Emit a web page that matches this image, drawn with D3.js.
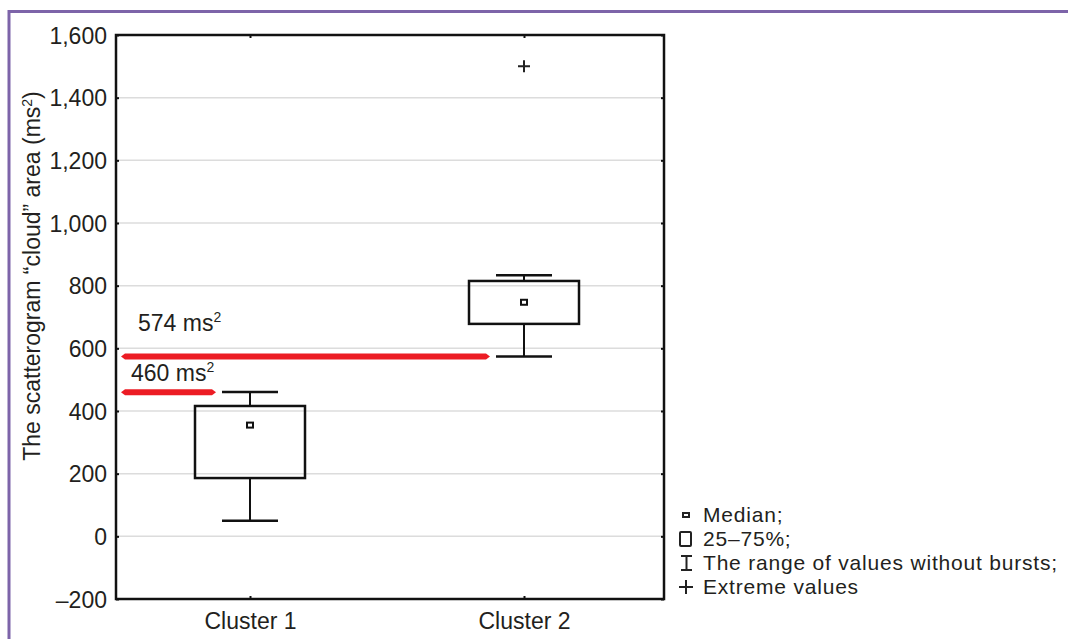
<!DOCTYPE html>
<html>
<head>
<meta charset="utf-8">
<script src="https://cdnjs.cloudflare.com/ajax/libs/d3/7.8.5/d3.min.js"></script>
<style>
    body { margin: 0; background: #fff; }
    svg text { font-family: "Liberation Sans", Arial, sans-serif; fill: #231f20; }
</style>
</head>
<body>
<script>
// box plot data
var clusters = ["Cluster 1", "Cluster 2"];
var whiskerLow = [50, 574];
var quart1 = [186, 678];
var medians = [355, 747];
var quart3 = [416, 815];
var whiskerHigh = [461, 833];
var extremeValues = [{cluster: "Cluster 2", value: 1500}];
var yTicks = [-200, 0, 200, 400, 600, 800, 1000, 1200, 1400, 1600];

// red reference lines and their labels
var refValues = [574, 460];
var refTargets = ["Cluster 2", "Cluster 1"];
var refLabels = ["574 ms", "460 ms"];

var legendLabels = ["Median;", "25\u201375%;", "The range of values without bursts;",
    "Extreme values"];

var W = 1068, H = 639;
var margin = {top: 35, right: 404, bottom: 40, left: 116};
var width = W - margin.left - margin.right,   // 548
    height = H - margin.top - margin.bottom;  // 564
var fs = "23px";

var svg = d3.select("body").append("svg")
    .attr("width", W)
    .attr("height", H);

// purple frame of the figure
svg.append("path")
    .attr("d", "M9,639 V11.5 H1068")
    .attr("fill", "none")
    .attr("stroke", "#7d64a9")
    .attr("stroke-width", 3);

var g = svg.append("g")
    .attr("transform", "translate(" + margin.left + "," + margin.top + ")");

var xScale = d3.scalePoint().domain(clusters).range([-3, width - 3]).padding(0.5);
var yScale = d3.scaleLinear().domain([-200, 1600]).range([height, 0]);

var fmt = d3.format(",");
function tickFmt(d) { return d < 0 ? "\u2013" + fmt(-d) : fmt(d); }

// grid lines
g.selectAll(".grid")
    .data(yTicks.filter(function(d) { return d > -200 && d < 1600; }))
    .enter().append("line")
    .attr("x1", 0).attr("x2", width)
    .attr("y1", function(d) { return yScale(d); })
    .attr("y2", function(d) { return yScale(d); })
    .attr("stroke", "#dcdcdc")
    .attr("stroke-width", 1.5);

// axes (inner ticks, frame drawn as a rect)
var yAxis = d3.axisLeft(yScale).tickValues(yTicks).tickSize(-3).tickPadding(9)
    .tickFormat(tickFmt);
var yAxisR = d3.axisRight(yScale).tickValues(yTicks).tickSize(-3).tickFormat("");
var xAxis = d3.axisBottom(xScale).tickSize(-3).tickPadding(14);
var xAxisT = d3.axisTop(xScale).tickSize(-3).tickFormat("");

var ya = g.append("g").call(yAxis);
g.append("g").attr("transform", "translate(" + width + ",0)").call(yAxisR);
var xa = g.append("g").attr("transform", "translate(0," + height + ")").call(xAxis);
g.append("g").call(xAxisT);

g.selectAll(".domain").remove();
g.selectAll(".tick line").attr("stroke", "#111").attr("stroke-width", 2);
ya.selectAll("text").attr("font-size", fs).attr("dy", "0.36em");
xa.selectAll("text").attr("font-size", fs).attr("dy", "0.71em");
g.selectAll(".tick text").style("font-family", "Liberation Sans, Arial, sans-serif")
    .attr("fill", "#231f20");

g.append("rect")
    .attr("width", width).attr("height", height)
    .attr("fill", "none")
    .attr("stroke", "#111")
    .attr("stroke-width", 2.5);

// y axis title
svg.append("text")
    .attr("transform", "translate(40,276) rotate(-90)")
    .attr("text-anchor", "middle")
    .attr("font-size", fs)
    .text("The scatterogram \u201ccloud\u201d area (ms")
    .call(function(t) {
        t.append("tspan").attr("font-size", "14px").attr("dy", "-8").text("2");
        t.append("tspan").attr("dy", "8").text(")");
    });

// boxes
var boxHalf = 55, capHalf = 28;
var boxes = clusters.map(function(c, i) {
    return {c: c, lo: whiskerLow[i], q1: quart1[i], med: medians[i],
        q3: quart3[i], hi: whiskerHigh[i]};
});

var bx = g.selectAll(".box").data(boxes).enter().append("g")
    .attr("transform", function(d) { return "translate(" + xScale(d.c) + ",0)"; });

// whiskers
bx.append("line")
    .attr("y1", function(d) { return yScale(d.lo); })
    .attr("y2", function(d) { return yScale(d.q1); })
    .attr("stroke", "#111").attr("stroke-width", 2);
bx.append("line")
    .attr("y1", function(d) { return yScale(d.q3); })
    .attr("y2", function(d) { return yScale(d.hi); })
    .attr("stroke", "#111").attr("stroke-width", 2);
bx.selectAll(".cap")
    .data(function(d) { return [d.lo, d.hi]; })
    .enter().append("line")
    .attr("x1", -capHalf).attr("x2", capHalf)
    .attr("y1", function(v) { return yScale(v); })
    .attr("y2", function(v) { return yScale(v); })
    .attr("stroke", "#111").attr("stroke-width", 2.5);

bx.append("rect")
    .attr("x", -boxHalf).attr("width", boxHalf * 2)
    .attr("y", function(d) { return yScale(d.q3); })
    .attr("height", function(d) { return yScale(d.q1) - yScale(d.q3); })
    .attr("fill", "none").attr("stroke", "#111").attr("stroke-width", 2.5);

// median markers
bx.append("rect")
    .attr("x", -3).attr("width", 6)
    .attr("y", function(d) { return yScale(d.med) - 2.5; })
    .attr("height", 5)
    .attr("fill", "none").attr("stroke", "#111").attr("stroke-width", 2);

// extreme values
g.selectAll(".extreme").data(extremeValues).enter().append("path")
    .attr("transform", function(d) {
        return "translate(" + xScale(d.cluster) + "," + yScale(d.value) + ")";
    })
    .attr("d", "M-6,0H6M0,-6V6")
    .attr("stroke", "#222").attr("stroke-width", 2);

// red reference lines with pointed ends
var refs = refValues.map(function(v, i) {
    return {v: v, x0: 5, x1: xScale(refTargets[i]) - capHalf - 6, label: refLabels[i]};
});
var labelOffset = [{dx: 22, dy: -25}, {dx: 15, dy: -11}];

g.selectAll(".ref").data(refs).enter().append("path")
    .attr("d", function(d) {
        var y = yScale(d.v);
        return "M" + d.x0 + "," + y + "L" + (d.x0 + 4) + "," + (y - 3) +
            "L" + (d.x1 - 4) + "," + (y - 3) + "L" + d.x1 + "," + y +
            "L" + (d.x1 - 4) + "," + (y + 3) + "L" + (d.x0 + 4) + "," + (y + 3) + "Z";
    })
    .attr("fill", "#ec1c24");

g.selectAll(".refLabel").data(refs).enter().append("text")
    .attr("x", function(d, i) { return labelOffset[i].dx; })
    .attr("y", function(d, i) { return yScale(d.v) + labelOffset[i].dy; })
    .attr("font-size", fs)
    .text(function(d) { return d.label; })
    .append("tspan").attr("font-size", "14px").attr("dy", "-9").text("2");

// legend: rows are tight in the original, so a slightly smaller,
// letter-spaced font keeps the width without rows overlapping
var leg = svg.append("g").attr("transform", "translate(686,522)");
var rows = leg.selectAll("g").data(legendLabels).enter().append("g")
    .attr("transform", function(d, i) { return "translate(0," + i * 24 + ")"; });

rows.append("text")
    .attr("x", 17)
    .attr("font-size", "21px")
    .attr("letter-spacing", "0.8px")
    .text(function(d) { return d; });

var sym = rows.append("g").attr("transform", "translate(0,-7)");
sym.filter(function(d, i) { return i === 0; }).append("rect")
    .attr("x", -3).attr("y", -2).attr("width", 6).attr("height", 4)
    .attr("fill", "none").attr("stroke", "#222").attr("stroke-width", 2);
sym.filter(function(d, i) { return i === 1; }).append("rect")
    .attr("x", -6).attr("y", -7).attr("width", 11).attr("height", 14).attr("rx", 1)
    .attr("fill", "none").attr("stroke", "#222").attr("stroke-width", 2);
sym.filter(function(d, i) { return i === 2; }).append("path")
    .attr("d", "M-5,-7H6M0.5,-7V7M-5,7H6")
    .attr("fill", "none").attr("stroke", "#222").attr("stroke-width", 2);
sym.filter(function(d, i) { return i === 3; }).append("path")
    .attr("d", "M-7,0H7M0,-7V7")
    .attr("stroke", "#222").attr("stroke-width", 2);
</script>
</body>
</html>
